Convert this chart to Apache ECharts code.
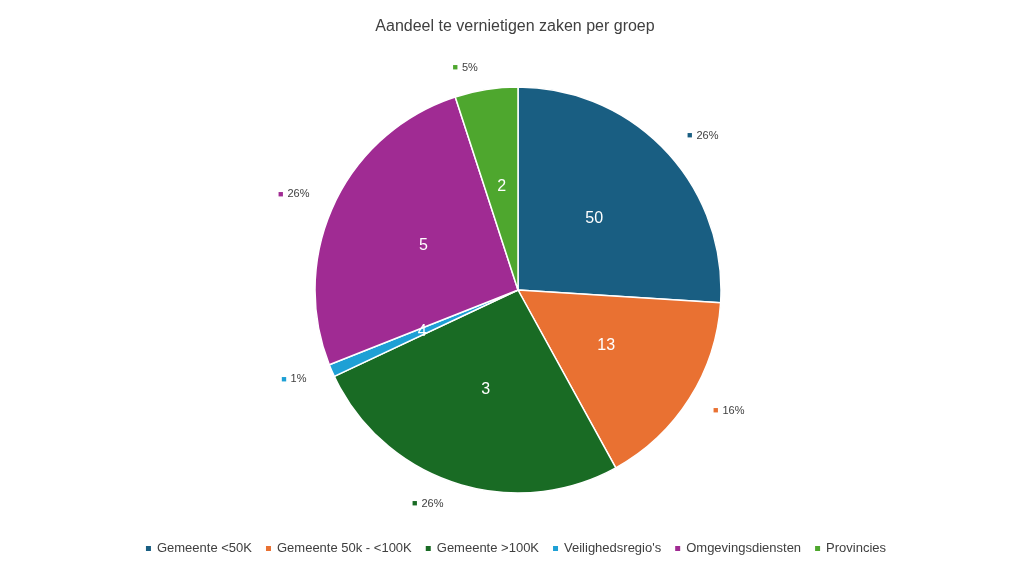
<!DOCTYPE html>
<html>
<head>
<meta charset="utf-8">
<script src="https://cdn.jsdelivr.net/npm/echarts@6/dist/echarts.min.js"></script>
<style>body{margin:0;background:#fff}#echarts{width:1030px;height:580px}</style>
</head>
<body>
<div id="echarts"></div>
<script>
// data
let groups = ['Gemeente <50K', 'Gemeente 50k - <100K', 'Gemeente >100K', "Veilighedsregio's", 'Omgevingsdiensten', 'Provincies'];
let shares = [26, 16, 26, 1, 26, 5];
let counts = [50, 13, 3, 4, 5, 2];
let colors = ['#195e82', '#e97132', '#196b24', '#1ea0d5', '#a02b93', '#4ea72e'];

let rich = {};
colors.forEach((c, i) => {
    rich['m' + i] = { color: c, fontSize: 9, padding: [0, 4, 0, 0] };
});
rich.t = { color: '#404040', fontSize: 11, fontFamily: 'Liberation Sans' };

let pieData = groups.map((g, i) => ({ name: g, value: shares[i], count: counts[i] }));

let option = {
    color: colors,
    title: {
        text: 'Aandeel te vernietigen zaken per groep',
        left: 'center', top: 14,
        textStyle: { fontSize: 16, fontWeight: 'normal', color: '#404040', fontFamily: 'Liberation Sans' }
    },
    legend: {
        bottom: 20, left: 'center',
        icon: 'rect', itemWidth: 7, itemHeight: 7, itemGap: 12,
        textStyle: { fontSize: 13, color: '#404040', fontFamily: 'Liberation Sans' },
        data: groups
    },
    series: [
        {
            type: 'pie', center: [518, 290], radius: 203, startAngle: 90,
            itemStyle: { borderColor: '#fff', borderWidth: 1.5 },
            label: {
                position: 'inside', color: '#fff', fontSize: 16, fontFamily: 'Liberation Sans',
                formatter: p => p.data.count
            },
            emphasis: { disabled: true },
            data: pieData
        },
        {
            type: 'pie', center: [518, 290], radius: 203, startAngle: 90,
            silent: true,
            itemStyle: { color: 'transparent' },
            label: {
                position: 'outside', distance: 22,
                formatter: p => '{m' + p.dataIndex + '|■}{t|' + p.value + '%}',
                rich: rich
            },
            labelLine: { show: false, length: 22, length2: 0 },
            data: pieData
        }
    ]
};

echarts.init(document.getElementById('echarts')).setOption(option);
</script>
</body>
</html>
